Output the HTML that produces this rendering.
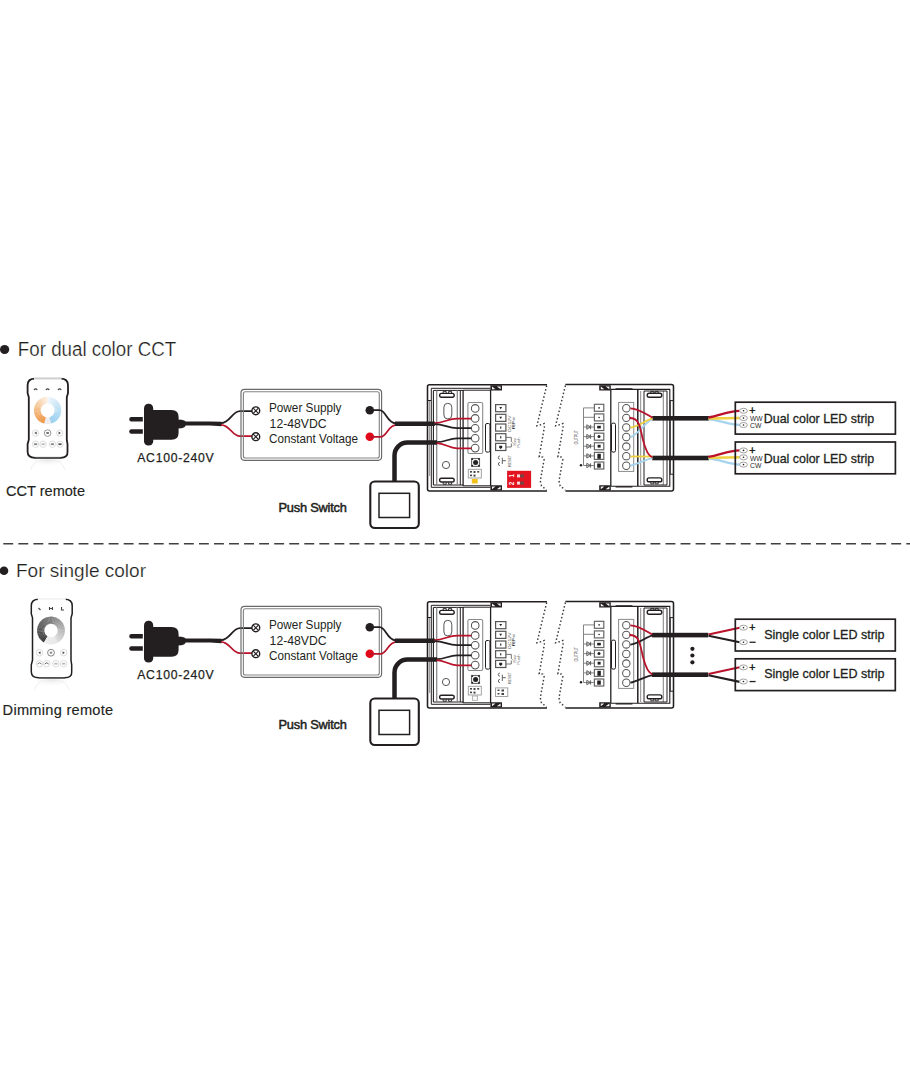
<!DOCTYPE html>
<html><head><meta charset="utf-8">
<style>
html,body{margin:0;padding:0;background:#fff;width:910px;height:1080px;overflow:hidden}
svg{display:block}
text{font-family:"Liberation Sans",sans-serif;fill:#231f20}
.th{stroke:#fff;stroke-width:0.22}
</style></head>
<body>
<svg width="910" height="1080" viewBox="0 0 910 1080">
<defs>
<radialGradient id="refl" cx="0.5" cy="0" r="0.8"><stop offset="0" stop-color="#e6e6e6"/><stop offset="1" stop-color="#fff" stop-opacity="0"/></radialGradient>
</defs>
<circle cx="4.6" cy="349.5" r="4.6" fill="#231f20"/>
<text class="th" x="17.8" y="355.8" font-size="19.6" textLength="158.4" lengthAdjust="spacingAndGlyphs">For dual color CCT</text>
<circle cx="4" cy="570.8" r="4.3" fill="#231f20"/>
<text class="th" x="16" y="576.5" font-size="19" textLength="130" lengthAdjust="spacingAndGlyphs">For single color</text>
<line x1="3.3" y1="543.7" x2="910" y2="543.7" stroke="#404040" stroke-width="1.6" stroke-dasharray="9.9 5.15"/>
<g><g fill="none" stroke="#231f20">
    <path d="M547 384.8 H429.5 Q427.5 384.8 427.5 386.8 V489 Q427.5 491 429.5 491 H547" stroke-width="1.55"/>
    <path d="M429.6 400.5 V476" stroke-width="0.9" stroke="#888"/>
    <path d="M427.5 400.5 H431" stroke-width="1"/>
    <path d="M490.5 388.3 H431.3 V487.3 H490.5" stroke-width="1"/>
    <path d="M433.4 390.4 V485" stroke-width="1.1"/>
    <path d="M433.4 390.4 H463 M433.4 485 H463" stroke-width="1"/>
    <path d="M436.7 390.4 V485 M457.3 390.4 V485" stroke-width="1.3" stroke="#8a8a8a"/>
    <path d="M460.3 390.4 V485" stroke-width="1"/>
    <path d="M463.1 390 V486" stroke-width="1.3"/>
    <path d="M490.6 390 V486" stroke-width="1.3"/>
    <path d="M463.1 390.2 H491 M463.1 485.8 H491" stroke-width="1"/>
    <rect x="439.6" y="393.4" width="14.6" height="3.8" rx="1.9" stroke-width="1.4"/>
    <rect x="439.6" y="478.2" width="14.6" height="3.8" rx="1.9" stroke-width="1.4"/>
    <path d="M443.2 393.2 V391.4 H446.2 V393.2 M448.6 393.2 V391.4 H451.6 V393.2 M443.2 482.4 V484.2 H446.2 V482.4 M448.6 482.4 V484.2 H451.6 V482.4" stroke-width="0.9"/>
    <rect x="443.9" y="403.3" width="7.9" height="15.6" rx="3.9" stroke-width="1" stroke="#555"/>
    <circle cx="446" cy="465" r="3.6" stroke-width="1" stroke="#555"/>
    <rect x="467.9" y="402.5" width="14.8" height="51" rx="1.5" stroke-width="1.1" stroke="#8a8a8a"/>
    <g stroke="#555" stroke-width="1.05">
      <circle cx="475.2" cy="408.4" r="3.8"/>
      <circle cx="475.2" cy="418.4" r="3.8"/>
      <circle cx="475.2" cy="428.3" r="3.8"/>
      <circle cx="475.2" cy="438.2" r="3.8"/>
      <circle cx="475.2" cy="448.1" r="3.8"/>
    </g>
    <rect x="485.5" y="423.5" width="4.5" height="28.6" rx="1.5" stroke-width="1"/>
    <g stroke-width="1.2" stroke="#555">
      <rect x="495.6" y="404.6" width="10.3" height="7.1"/>
      <rect x="495.6" y="414.3" width="10.3" height="7.1"/>
      <rect x="495.6" y="424" width="10.3" height="7.1"/>
      <rect x="495.6" y="433.7" width="10.3" height="7.1"/>
      <rect x="495.6" y="443.4" width="10.3" height="7.1"/>
    </g>
    <path d="M505.9 437.4 H511.3 V441.5 L512.5 442.5 M505.9 447 H511.3 V443.5" stroke-width="0.9" stroke="#666"/>
    <path d="M499.9 456 A1.6 1.6 0 1 0 499.9 459.2 M499.9 462.4 A1.6 1.6 0 1 0 499.9 465.6 M502.3 457.6 V464 M502.3 460.7 H505.9" stroke-width="0.9" stroke="#555"/>
  </g>
<g fill="#231f20">


    <path d="M499.3 407 H502.1 L500.7 409.3 Z M499.3 416.7 H502.1 L500.7 419 Z"/>
    <rect x="500.2" y="426.5" width="1.1" height="2.2"/>
    <rect x="500.2" y="436.2" width="1.1" height="2.2"/>
    <path d="M499.2 445.8 H502.2 V447.8 L500.7 449 L499.2 447.8 Z"/>
  </g>
<text x="0" y="0" font-size="4.3" style="fill:#666" transform="translate(510.9 432) rotate(-90)" textLength="16.5" lengthAdjust="spacingAndGlyphs">DC12V</text>
<text x="0" y="0" font-size="4.3" font-weight="bold" style="fill:#333" transform="translate(515.4 429.5) rotate(-90)" textLength="12.5" lengthAdjust="spacingAndGlyphs">RF=</text>
<text x="0" y="0" font-size="3.8" style="fill:#777" transform="translate(516 446) rotate(-90)" textLength="8" lengthAdjust="spacingAndGlyphs">Sw</text>
<text x="0" y="0" font-size="3.8" style="fill:#777" transform="translate(519.7 448) rotate(-90)" textLength="10.7" lengthAdjust="spacingAndGlyphs">Push</text>
<text x="0" y="0" font-size="4" style="fill:#555" transform="translate(511.4 467) rotate(-90)" textLength="12" lengthAdjust="spacingAndGlyphs">RESET</text>
<rect x="471.6" y="458.4" width="8" height="8" fill="#f4f4f4" stroke="#555" stroke-width="0.9"/>
<circle cx="475.6" cy="462.4" r="2.5" fill="#222"/>
<g fill="#222"><circle cx="472.3" cy="459.1" r="0.9"/><circle cx="478.9" cy="459.1" r="0.9"/><circle cx="472.3" cy="465.7" r="0.9"/><circle cx="478.9" cy="465.7" r="0.9"/></g>
<path d="M490.4 385.2 H502 V390.4 H490.4 Z M490.4 485.2 H502 V490.4 H490.4 Z" fill="#231f20"/>
<path d="M492 386.4 L495.5 389.2 L492 389.2 Z M496.8 386.4 L500.6 386.4 L500.6 389.2 Z M492 489.2 L495.5 486.4 L492 486.4 Z M496.8 489.2 L500.6 489.2 L500.6 486.4 Z" fill="#f2f2f2"/>
<rect x="468.3" y="469.3" width="13" height="8.7" fill="#fff" stroke="#999" stroke-width="0.9"/>
<g fill="#444"><rect x="470" y="471" width="2" height="1.6"/><rect x="473.5" y="471" width="2" height="2"/><rect x="477.2" y="471" width="2" height="1.6"/><rect x="470" y="474.6" width="2" height="1.6"/><rect x="473.5" y="474.6" width="2" height="2"/></g>
<path d="M546.7 385.5 L536.9 425.8 L540.5 424.8 L544.1 423.5 L544.4 427.1 L539.2 456.8 L542.8 457.1 L544.1 459.4 L540.3 481.0 L541.5 486.0 L546.5 489.8" fill="none" stroke="#3a3a3a" stroke-width="1.45" stroke-dasharray="1.5 2.2"/></g>
<g transform="translate(0,217)"><g fill="none" stroke="#231f20">
    <path d="M547 384.8 H429.5 Q427.5 384.8 427.5 386.8 V489 Q427.5 491 429.5 491 H547" stroke-width="1.55"/>
    <path d="M429.6 400.5 V476" stroke-width="0.9" stroke="#888"/>
    <path d="M427.5 400.5 H431" stroke-width="1"/>
    <path d="M490.5 388.3 H431.3 V487.3 H490.5" stroke-width="1"/>
    <path d="M433.4 390.4 V485" stroke-width="1.1"/>
    <path d="M433.4 390.4 H463 M433.4 485 H463" stroke-width="1"/>
    <path d="M436.7 390.4 V485 M457.3 390.4 V485" stroke-width="1.3" stroke="#8a8a8a"/>
    <path d="M460.3 390.4 V485" stroke-width="1"/>
    <path d="M463.1 390 V486" stroke-width="1.3"/>
    <path d="M490.6 390 V486" stroke-width="1.3"/>
    <path d="M463.1 390.2 H491 M463.1 485.8 H491" stroke-width="1"/>
    <rect x="439.6" y="393.4" width="14.6" height="3.8" rx="1.9" stroke-width="1.4"/>
    <rect x="439.6" y="478.2" width="14.6" height="3.8" rx="1.9" stroke-width="1.4"/>
    <path d="M443.2 393.2 V391.4 H446.2 V393.2 M448.6 393.2 V391.4 H451.6 V393.2 M443.2 482.4 V484.2 H446.2 V482.4 M448.6 482.4 V484.2 H451.6 V482.4" stroke-width="0.9"/>
    <rect x="443.9" y="403.3" width="7.9" height="15.6" rx="3.9" stroke-width="1" stroke="#555"/>
    <circle cx="446" cy="465" r="3.6" stroke-width="1" stroke="#555"/>
    <rect x="467.9" y="402.5" width="14.8" height="51" rx="1.5" stroke-width="1.1" stroke="#8a8a8a"/>
    <g stroke="#555" stroke-width="1.05">
      <circle cx="475.2" cy="408.4" r="3.8"/>
      <circle cx="475.2" cy="418.4" r="3.8"/>
      <circle cx="475.2" cy="428.3" r="3.8"/>
      <circle cx="475.2" cy="438.2" r="3.8"/>
      <circle cx="475.2" cy="448.1" r="3.8"/>
    </g>
    <rect x="485.5" y="423.5" width="4.5" height="28.6" rx="1.5" stroke-width="1"/>
    <g stroke-width="1.2" stroke="#555">
      <rect x="495.6" y="404.6" width="10.3" height="7.1"/>
      <rect x="495.6" y="414.3" width="10.3" height="7.1"/>
      <rect x="495.6" y="424" width="10.3" height="7.1"/>
      <rect x="495.6" y="433.7" width="10.3" height="7.1"/>
      <rect x="495.6" y="443.4" width="10.3" height="7.1"/>
    </g>
    <path d="M505.9 437.4 H511.3 V441.5 L512.5 442.5 M505.9 447 H511.3 V443.5" stroke-width="0.9" stroke="#666"/>
    <path d="M499.9 456 A1.6 1.6 0 1 0 499.9 459.2 M499.9 462.4 A1.6 1.6 0 1 0 499.9 465.6 M502.3 457.6 V464 M502.3 460.7 H505.9" stroke-width="0.9" stroke="#555"/>
  </g>
<g fill="#231f20">


    <path d="M499.3 407 H502.1 L500.7 409.3 Z M499.3 416.7 H502.1 L500.7 419 Z"/>
    <rect x="500.2" y="426.5" width="1.1" height="2.2"/>
    <rect x="500.2" y="436.2" width="1.1" height="2.2"/>
    <path d="M499.2 445.8 H502.2 V447.8 L500.7 449 L499.2 447.8 Z"/>
  </g>
<text x="0" y="0" font-size="4.3" style="fill:#666" transform="translate(510.9 432) rotate(-90)" textLength="16.5" lengthAdjust="spacingAndGlyphs">DC12V</text>
<text x="0" y="0" font-size="4.3" font-weight="bold" style="fill:#333" transform="translate(515.4 429.5) rotate(-90)" textLength="12.5" lengthAdjust="spacingAndGlyphs">RF=</text>
<text x="0" y="0" font-size="3.8" style="fill:#777" transform="translate(516 446) rotate(-90)" textLength="8" lengthAdjust="spacingAndGlyphs">Sw</text>
<text x="0" y="0" font-size="3.8" style="fill:#777" transform="translate(519.7 448) rotate(-90)" textLength="10.7" lengthAdjust="spacingAndGlyphs">Push</text>
<text x="0" y="0" font-size="4" style="fill:#555" transform="translate(511.4 467) rotate(-90)" textLength="12" lengthAdjust="spacingAndGlyphs">RESET</text>
<rect x="471.6" y="458.4" width="8" height="8" fill="#f4f4f4" stroke="#555" stroke-width="0.9"/>
<circle cx="475.6" cy="462.4" r="2.5" fill="#222"/>
<g fill="#222"><circle cx="472.3" cy="459.1" r="0.9"/><circle cx="478.9" cy="459.1" r="0.9"/><circle cx="472.3" cy="465.7" r="0.9"/><circle cx="478.9" cy="465.7" r="0.9"/></g>
<path d="M490.4 385.2 H502 V390.4 H490.4 Z M490.4 485.2 H502 V490.4 H490.4 Z" fill="#231f20"/>
<path d="M492 386.4 L495.5 389.2 L492 389.2 Z M496.8 386.4 L500.6 386.4 L500.6 389.2 Z M492 489.2 L495.5 486.4 L492 486.4 Z M496.8 489.2 L500.6 489.2 L500.6 486.4 Z" fill="#f2f2f2"/>
<rect x="468.3" y="469.3" width="13" height="8.7" fill="#fff" stroke="#999" stroke-width="0.9"/>
<g fill="#444"><rect x="470" y="471" width="2" height="1.6"/><rect x="473.5" y="471" width="2" height="2"/><rect x="477.2" y="471" width="2" height="1.6"/><rect x="470" y="474.6" width="2" height="1.6"/><rect x="473.5" y="474.6" width="2" height="2"/></g>
<path d="M546.7 385.5 L536.9 425.8 L540.5 424.8 L544.1 423.5 L544.4 427.1 L539.2 456.8 L542.8 457.1 L544.1 459.4 L540.3 481.0 L541.5 486.0 L546.5 489.8" fill="none" stroke="#3a3a3a" stroke-width="1.45" stroke-dasharray="1.5 2.2"/></g>
<g><path d="M565.4 385.5 L555.6 425.8 L559.2 424.8 L562.8 423.5 L563.1 427.1 L557.9 456.8 L561.5 457.1 L562.8 459.4 L559.0 481.0 L560.2 486.0 L565.2 489.8" fill="none" stroke="#3a3a3a" stroke-width="1.45" stroke-dasharray="1.5 2.2"/>
<g fill="none" stroke="#231f20">
    <path d="M565.4 384.4 H671.5 Q673.5 384.4 673.5 386.4 V489 Q673.5 491 671.5 491 H565.4" stroke-width="1.55"/>
    <path d="M610.7 389.4 H669.8 V486.2 H610.7" stroke-width="1.1"/>
    <path d="M610.8 390 V486" stroke-width="1.3"/>
    <rect x="611.5" y="423.1" width="4" height="29" rx="1.5" stroke-width="1"/>
    <rect x="618.6" y="402.4" width="15.1" height="69" stroke-width="1" stroke="#8a8a8a"/>
    <g stroke="#555" stroke-width="1.05">
<circle cx="626.3" cy="408.30" r="3.7"/>
<circle cx="626.3" cy="417.87" r="3.7"/>
<circle cx="626.3" cy="427.44" r="3.7"/>
<circle cx="626.3" cy="437.01" r="3.7"/>
<circle cx="626.3" cy="446.58" r="3.7"/>
<circle cx="626.3" cy="456.15" r="3.7"/>
<circle cx="626.3" cy="465.72" r="3.7"/>
</g>
    <path d="M637.8 390 V486" stroke-width="1.5"/>
    <path d="M640.7 391 V485" stroke-width="1" stroke="#8a8a8a"/>
    <path d="M644 391 V485" stroke-width="1"/>
    <path d="M663.3 391 V485" stroke-width="1.1" stroke="#8a8a8a"/>
    <path d="M644 391 H667 M644 485 H667" stroke-width="1"/>
    <path d="M667 391 V485" stroke-width="1"/>
    <rect x="647.2" y="393.3" width="14.6" height="3.9" rx="1.9" stroke-width="1.4"/>
    <rect x="647.2" y="477.9" width="14.6" height="3.9" rx="1.9" stroke-width="1.4"/>
    <path d="M650.8 393.1 V391.4 H653.8 V393.1 M655.2 393.1 V391.4 H658.2 V393.1 M650.8 482 V483.8 H653.8 V482 M655.2 482 V483.8 H658.2 V482" stroke-width="0.9"/>
    <rect x="670.2" y="400.6" width="3.3" height="73.6" stroke-width="1"/>
    <g stroke-width="1.2" stroke="#666">
<rect x="594.4" y="404.30" width="9.4" height="7"/>
<rect x="594.4" y="413.92" width="9.4" height="7"/>
<rect x="594.4" y="423.54" width="9.4" height="7"/>
<rect x="594.4" y="433.16" width="9.4" height="7"/>
<rect x="594.4" y="442.78" width="9.4" height="7"/>
<rect x="594.4" y="452.40" width="9.4" height="7"/>
<rect x="594.4" y="462.02" width="9.4" height="7"/>
</g>
<path d="M583.5 407.9 V465.4 M583.5 407.9 H594.4 M583.5 417.3 H594.4 M583.5 427.0 H594.4 M583.5 436.6 H594.4 M583.5 446.2 H594.4 M583.5 455.9 H594.4 M583.5 465.5 H594.4" stroke-width="0.9" stroke="#777"/>
<path d="M586.8 424.8 L590.6 427.0 L586.8 429.2 Z M590.6 424.8 V429.2" stroke-width="0.9" stroke="#555"/>
<path d="M586.8 434.4 L590.6 436.6 L586.8 438.8 Z M590.6 434.4 V438.8" stroke-width="0.9" stroke="#555"/>
<path d="M586.8 444.0 L590.6 446.2 L586.8 448.4 Z M590.6 444.0 V448.4" stroke-width="0.9" stroke="#555"/>
<path d="M586.8 453.7 L590.6 455.9 L586.8 458.1 Z M590.6 453.7 V458.1" stroke-width="0.9" stroke="#555"/>
<path d="M586.8 463.3 L590.6 465.5 L586.8 467.7 Z M590.6 463.3 V467.7" stroke-width="0.9" stroke="#555"/>
</g>
<g fill="#231f20">

    <circle cx="599.1" cy="407.9" r="0.8"/>
    <circle cx="599.1" cy="417.5" r="0.8"/>
    <rect x="597.2" y="425.8" width="3.6" height="2.6"/>
    <circle cx="599" cy="436.6" r="1.5"/>
    <rect x="597.6" y="444.8" width="3" height="2.8"/>
    <rect x="597.4" y="453.8" width="3.4" height="5"/>
    <rect x="597.2" y="463.5" width="3.6" height="4.2"/>
    <circle cx="581" cy="465.2" r="1.2"/>
  </g>
<path d="M599.2 385.2 H610.8 V390.4 H599.2 Z M599.2 485.2 H610.8 V490.4 H599.2 Z" fill="#231f20"/>
<path d="M600.8 386.4 L604.3 389.2 L600.8 389.2 Z M605.6 386.4 L609.4 386.4 L609.4 389.2 Z M600.8 489.2 L604.3 486.4 L600.8 486.4 Z M605.6 489.2 L609.4 489.2 L609.4 486.4 Z" fill="#f2f2f2"/>
<path d="M615.6 388.8 H632.4 M615.6 486.8 H632.4" stroke="#231f20" stroke-width="1.2"/>
<text x="0" y="0" font-size="5" style="fill:#555" transform="translate(578.3 444.5) rotate(-90)" textLength="14.5" lengthAdjust="spacingAndGlyphs">OUTPUT</text></g>
<g transform="translate(0,217)"><path d="M565.4 385.5 L555.6 425.8 L559.2 424.8 L562.8 423.5 L563.1 427.1 L557.9 456.8 L561.5 457.1 L562.8 459.4 L559.0 481.0 L560.2 486.0 L565.2 489.8" fill="none" stroke="#3a3a3a" stroke-width="1.45" stroke-dasharray="1.5 2.2"/>
<g fill="none" stroke="#231f20">
    <path d="M565.4 384.4 H671.5 Q673.5 384.4 673.5 386.4 V489 Q673.5 491 671.5 491 H565.4" stroke-width="1.55"/>
    <path d="M610.7 389.4 H669.8 V486.2 H610.7" stroke-width="1.1"/>
    <path d="M610.8 390 V486" stroke-width="1.3"/>
    <rect x="611.5" y="423.1" width="4" height="29" rx="1.5" stroke-width="1"/>
    <rect x="618.6" y="402.4" width="15.1" height="69" stroke-width="1" stroke="#8a8a8a"/>
    <g stroke="#555" stroke-width="1.05">
<circle cx="626.3" cy="408.30" r="3.7"/>
<circle cx="626.3" cy="417.87" r="3.7"/>
<circle cx="626.3" cy="427.44" r="3.7"/>
<circle cx="626.3" cy="437.01" r="3.7"/>
<circle cx="626.3" cy="446.58" r="3.7"/>
<circle cx="626.3" cy="456.15" r="3.7"/>
<circle cx="626.3" cy="465.72" r="3.7"/>
</g>
    <path d="M637.8 390 V486" stroke-width="1.5"/>
    <path d="M640.7 391 V485" stroke-width="1" stroke="#8a8a8a"/>
    <path d="M644 391 V485" stroke-width="1"/>
    <path d="M663.3 391 V485" stroke-width="1.1" stroke="#8a8a8a"/>
    <path d="M644 391 H667 M644 485 H667" stroke-width="1"/>
    <path d="M667 391 V485" stroke-width="1"/>
    <rect x="647.2" y="393.3" width="14.6" height="3.9" rx="1.9" stroke-width="1.4"/>
    <rect x="647.2" y="477.9" width="14.6" height="3.9" rx="1.9" stroke-width="1.4"/>
    <path d="M650.8 393.1 V391.4 H653.8 V393.1 M655.2 393.1 V391.4 H658.2 V393.1 M650.8 482 V483.8 H653.8 V482 M655.2 482 V483.8 H658.2 V482" stroke-width="0.9"/>
    <rect x="670.2" y="400.6" width="3.3" height="73.6" stroke-width="1"/>
    <g stroke-width="1.2" stroke="#666">
<rect x="594.4" y="404.30" width="9.4" height="7"/>
<rect x="594.4" y="413.92" width="9.4" height="7"/>
<rect x="594.4" y="423.54" width="9.4" height="7"/>
<rect x="594.4" y="433.16" width="9.4" height="7"/>
<rect x="594.4" y="442.78" width="9.4" height="7"/>
<rect x="594.4" y="452.40" width="9.4" height="7"/>
<rect x="594.4" y="462.02" width="9.4" height="7"/>
</g>
<path d="M583.5 407.9 V465.4 M583.5 407.9 H594.4 M583.5 417.3 H594.4 M583.5 427.0 H594.4 M583.5 436.6 H594.4 M583.5 446.2 H594.4 M583.5 455.9 H594.4 M583.5 465.5 H594.4" stroke-width="0.9" stroke="#777"/>
<path d="M586.8 424.8 L590.6 427.0 L586.8 429.2 Z M590.6 424.8 V429.2" stroke-width="0.9" stroke="#555"/>
<path d="M586.8 434.4 L590.6 436.6 L586.8 438.8 Z M590.6 434.4 V438.8" stroke-width="0.9" stroke="#555"/>
<path d="M586.8 444.0 L590.6 446.2 L586.8 448.4 Z M590.6 444.0 V448.4" stroke-width="0.9" stroke="#555"/>
<path d="M586.8 453.7 L590.6 455.9 L586.8 458.1 Z M590.6 453.7 V458.1" stroke-width="0.9" stroke="#555"/>
<path d="M586.8 463.3 L590.6 465.5 L586.8 467.7 Z M590.6 463.3 V467.7" stroke-width="0.9" stroke="#555"/>
</g>
<g fill="#231f20">

    <circle cx="599.1" cy="407.9" r="0.8"/>
    <circle cx="599.1" cy="417.5" r="0.8"/>
    <rect x="597.2" y="425.8" width="3.6" height="2.6"/>
    <circle cx="599" cy="436.6" r="1.5"/>
    <rect x="597.6" y="444.8" width="3" height="2.8"/>
    <rect x="597.4" y="453.8" width="3.4" height="5"/>
    <rect x="597.2" y="463.5" width="3.6" height="4.2"/>
    <circle cx="581" cy="465.2" r="1.2"/>
  </g>
<path d="M599.2 385.2 H610.8 V390.4 H599.2 Z M599.2 485.2 H610.8 V490.4 H599.2 Z" fill="#231f20"/>
<path d="M600.8 386.4 L604.3 389.2 L600.8 389.2 Z M605.6 386.4 L609.4 386.4 L609.4 389.2 Z M600.8 489.2 L604.3 486.4 L600.8 486.4 Z M605.6 489.2 L609.4 489.2 L609.4 486.4 Z" fill="#f2f2f2"/>
<path d="M615.6 388.8 H632.4 M615.6 486.8 H632.4" stroke="#231f20" stroke-width="1.2"/>
<text x="0" y="0" font-size="5" style="fill:#555" transform="translate(578.3 444.5) rotate(-90)" textLength="14.5" lengthAdjust="spacingAndGlyphs">OUTPUT</text></g>
<g><g fill="#231f20">
    <path d="M131.4 417 H142.8 V421.4 H131.4 A2.2 2.2 0 0 1 131.4 417 Z"/>
    <path d="M131.4 429.3 H142.8 V433.7 H131.4 A2.2 2.2 0 0 1 131.4 429.3 Z"/>
    <rect x="144" y="403.8" width="9.2" height="41.8" rx="4.4"/>
    <path d="M148 410 H171.5 Q178.6 410 178.6 417 V432.8 Q178.6 439.8 171.5 439.8 H148 Z"/>
    <path d="M177 419.4 L181.5 419.8 Q185 420.5 185.5 421.4 V425.6 Q185 427.8 181.5 428.3 L177 428.6 Z"/>
    <path d="M184 421.4 H210 L221.6 421.8 V426.3 L210 425.4 H184 Z"/>
  </g>
<path d="M221 423.2 C230 423.2 232 411.2 240 411.2 H253" fill="none" stroke="#231f20" stroke-width="1.8"/>
<path d="M221 424.8 C230 424.8 232 436.2 240 436.2 H253" fill="none" stroke="#b8132b" stroke-width="1.8"/>
<rect x="241" y="389.4" width="140.6" height="70.9" rx="3.5" fill="none" stroke="#6a6a6a" stroke-width="1.15"/>
<rect x="243.4" y="391.7" width="135.9" height="66.3" rx="2" fill="none" stroke="#858585" stroke-width="1.15"/>
<g fill="#fff" stroke="#231f20" stroke-width="1.4"><circle cx="255.8" cy="410.8" r="3.9"/><circle cx="255.8" cy="436.7" r="3.9"/></g>
<path d="M253.2 408.2 L258.4 413.4 M258.4 408.2 L253.2 413.4 M253.2 434.1 L258.4 439.3 M258.4 434.1 L253.2 439.3" stroke="#231f20" stroke-width="1.1"/>
<text x="269" y="412.2" font-size="12.2" textLength="72.5" lengthAdjust="spacingAndGlyphs">Power Supply</text>
<text x="269.6" y="427.7" font-size="12.2" textLength="57" lengthAdjust="spacingAndGlyphs">12-48VDC</text>
<text x="269" y="443.2" font-size="12.2" textLength="89" lengthAdjust="spacingAndGlyphs">Constant Voltage</text>
<circle cx="369.8" cy="410.2" r="4.3" fill="#231f20"/>
<circle cx="369.8" cy="436.8" r="4.3" fill="#e20a1a"/>
<path d="M369.8 410.2 H379.5 C386 410.2 387 423.3 395.5 423.3" fill="none" stroke="#231f20" stroke-width="1.8"/>
<path d="M369.8 436.8 H380.5 C387 436.8 388 424.8 396.5 424.8" fill="none" stroke="#b8132b" stroke-width="1.7"/>
<rect x="394.9" y="421.5" width="40" height="4.5" fill="#231f20"/>
<path d="M394.5 481.5 V455.6 A13 13 0 0 1 407.5 442.6 H437" fill="none" stroke="#231f20" stroke-width="4.5"/>
<rect x="370.3" y="481.5" width="48.5" height="46.5" rx="4.5" fill="#fff" stroke="#231f20" stroke-width="2.1"/>
<rect x="379" y="493.3" width="30.6" height="24.2" fill="none" stroke="#231f20" stroke-width="1.5"/>
<text x="278.5" y="512.1" font-size="12.8" textLength="68.3" lengthAdjust="spacing" style="fill:#231f20;stroke:#231f20;stroke-width:0.5">Push Switch</text>
<path d="M434.6 423.1 C444 423.1 448 418.6 457 418.6 H471.2" fill="none" stroke="#b8132b" stroke-width="1.7"/>
<path d="M434.6 424.1 C444 424.1 448 428.2 457 428.2 H471.2" fill="none" stroke="#231f20" stroke-width="1.7"/>
<path d="M436.6 442.2 C445 442.2 449 438.3 457 438.3 H471.2" fill="none" stroke="#231f20" stroke-width="1.7"/>
<path d="M436.6 443.2 C445 443.2 449 448.3 457 448.3 H471.2" fill="none" stroke="#b8132b" stroke-width="1.7"/></g>
<g transform="translate(0,217)"><g fill="#231f20">
    <path d="M131.4 417 H142.8 V421.4 H131.4 A2.2 2.2 0 0 1 131.4 417 Z"/>
    <path d="M131.4 429.3 H142.8 V433.7 H131.4 A2.2 2.2 0 0 1 131.4 429.3 Z"/>
    <rect x="144" y="403.8" width="9.2" height="41.8" rx="4.4"/>
    <path d="M148 410 H171.5 Q178.6 410 178.6 417 V432.8 Q178.6 439.8 171.5 439.8 H148 Z"/>
    <path d="M177 419.4 L181.5 419.8 Q185 420.5 185.5 421.4 V425.6 Q185 427.8 181.5 428.3 L177 428.6 Z"/>
    <path d="M184 421.4 H210 L221.6 421.8 V426.3 L210 425.4 H184 Z"/>
  </g>
<path d="M221 423.2 C230 423.2 232 411.2 240 411.2 H253" fill="none" stroke="#231f20" stroke-width="1.8"/>
<path d="M221 424.8 C230 424.8 232 436.2 240 436.2 H253" fill="none" stroke="#b8132b" stroke-width="1.8"/>
<rect x="241" y="389.4" width="140.6" height="70.9" rx="3.5" fill="none" stroke="#6a6a6a" stroke-width="1.15"/>
<rect x="243.4" y="391.7" width="135.9" height="66.3" rx="2" fill="none" stroke="#858585" stroke-width="1.15"/>
<g fill="#fff" stroke="#231f20" stroke-width="1.4"><circle cx="255.8" cy="410.8" r="3.9"/><circle cx="255.8" cy="436.7" r="3.9"/></g>
<path d="M253.2 408.2 L258.4 413.4 M258.4 408.2 L253.2 413.4 M253.2 434.1 L258.4 439.3 M258.4 434.1 L253.2 439.3" stroke="#231f20" stroke-width="1.1"/>
<text x="269" y="412.2" font-size="12.2" textLength="72.5" lengthAdjust="spacingAndGlyphs">Power Supply</text>
<text x="269.6" y="427.7" font-size="12.2" textLength="57" lengthAdjust="spacingAndGlyphs">12-48VDC</text>
<text x="269" y="443.2" font-size="12.2" textLength="89" lengthAdjust="spacingAndGlyphs">Constant Voltage</text>
<circle cx="369.8" cy="410.2" r="4.3" fill="#231f20"/>
<circle cx="369.8" cy="436.8" r="4.3" fill="#e20a1a"/>
<path d="M369.8 410.2 H379.5 C386 410.2 387 423.3 395.5 423.3" fill="none" stroke="#231f20" stroke-width="1.8"/>
<path d="M369.8 436.8 H380.5 C387 436.8 388 424.8 396.5 424.8" fill="none" stroke="#b8132b" stroke-width="1.7"/>
<rect x="394.9" y="421.5" width="40" height="4.5" fill="#231f20"/>
<path d="M394.5 481.5 V455.6 A13 13 0 0 1 407.5 442.6 H437" fill="none" stroke="#231f20" stroke-width="4.5"/>
<rect x="370.3" y="481.5" width="48.5" height="46.5" rx="4.5" fill="#fff" stroke="#231f20" stroke-width="2.1"/>
<rect x="379" y="493.3" width="30.6" height="24.2" fill="none" stroke="#231f20" stroke-width="1.5"/>
<text x="278.5" y="512.1" font-size="12.8" textLength="68.3" lengthAdjust="spacing" style="fill:#231f20;stroke:#231f20;stroke-width:0.5">Push Switch</text>
<path d="M434.6 423.1 C444 423.1 448 418.6 457 418.6 H471.2" fill="none" stroke="#b8132b" stroke-width="1.7"/>
<path d="M434.6 424.1 C444 424.1 448 428.2 457 428.2 H471.2" fill="none" stroke="#231f20" stroke-width="1.7"/>
<path d="M436.6 442.2 C445 442.2 449 438.3 457 438.3 H471.2" fill="none" stroke="#231f20" stroke-width="1.7"/>
<path d="M436.6 443.2 C445 443.2 449 448.3 457 448.3 H471.2" fill="none" stroke="#b8132b" stroke-width="1.7"/></g>
<text x="137.2" y="461.7" font-size="12.2" textLength="76.5" lengthAdjust="spacing" style="stroke:#231f20;stroke-width:0.25">AC100-240V</text>
<text x="137.2" y="678.7" font-size="12.2" textLength="76.5" lengthAdjust="spacing" style="stroke:#231f20;stroke-width:0.25">AC100-240V</text>
<text x="6" y="496.4" font-size="14.6" textLength="79" lengthAdjust="spacingAndGlyphs" style="stroke:#231f20;stroke-width:0.15">CCT remote</text>
<text x="2.6" y="714.9" font-size="14.6" textLength="110.6" lengthAdjust="spacing" style="stroke:#231f20;stroke-width:0.15">Dimming remote</text>
<rect x="471.8" y="478.9" width="5.9" height="4.6" fill="#f2c21a"/>
<rect x="507.1" y="470.8" width="24" height="17.1" fill="#e3141f"/>
<text x="0" y="0" font-size="6.4" font-weight="bold" style="fill:#fff" transform="translate(513.8 477.6) rotate(-90)">1</text>
<text x="0" y="0" font-size="6.4" font-weight="bold" style="fill:#fff" transform="translate(513.8 485.3) rotate(-90)">2</text>
<g><rect x="517" y="474.4" width="3" height="3" fill="#f6d6d6"/><rect x="520.3" y="474.4" width="3.6" height="3" fill="#6a4a48"/><rect x="517" y="481.6" width="3" height="3" fill="#f6d6d6"/><rect x="520.3" y="481.6" width="3.6" height="3" fill="#6a4a48"/></g>
<rect x="652.2" y="416" width="56.8" height="4.6" fill="#231f20"/>
<rect x="652.2" y="455.7" width="56.8" height="4.6" fill="#231f20"/>
<g fill="none" stroke-width="1.8">
  <path d="M630.4 437.2 C638 435 646 421 652.5 419.2" stroke="#a6d3ee"/>
  <path d="M630.4 427.6 C638 427 646 420 652.5 418.4" stroke="#f0d040"/>
  <path d="M630.4 465.7 C638 464 646 459 652.5 458.4" stroke="#a6d3ee"/>
  <path d="M630.4 456.5 H652.5" stroke="#f0d040"/>
  <path d="M630.4 408.3 C638 408.3 646 414 652.5 417.6" stroke="#b8132b"/>
  <path d="M629.5 418 C640 418 640 428 643 440 C645 448 648 456 652.5 457.4" stroke="#b8132b"/>
</g>
<g fill="none" stroke-width="2.3">
  <path d="M708.5 419.3 C720 420 728 424.5 739.6 425" stroke="#a6d3ee"/>
  <path d="M708.5 418.4 C720 418.4 728 418 739.6 418" stroke="#f0d040" stroke-width="2.6"/>
  <path d="M708.5 417.5 C720 415.5 728 411 739.6 410.8" stroke="#b8132b"/>
  <path d="M708.5 458.7 C720 459.4 728 464 739.6 464.6" stroke="#a6d3ee"/>
  <path d="M708.5 457.8 C720 457.8 728 457.3 739.6 457.3" stroke="#f0d040" stroke-width="2.6"/>
  <path d="M708.5 456.9 C720 455 728 450.6 739.6 450.4" stroke="#b8132b"/>
</g>
<rect x="735.3" y="402.2" width="160.1" height="31.9" fill="none" stroke="#231f20" stroke-width="1.7"/>
<rect x="735.3" y="442" width="160.1" height="31.8" fill="none" stroke="#231f20" stroke-width="1.7"/>
<ellipse cx="743.5" cy="410.8" rx="3.9" ry="2.5" fill="#fff" stroke="#999" stroke-width="0.9"/><circle cx="743.5" cy="410.8" r="0.8" fill="#231f20"/>
<ellipse cx="743.5" cy="418.1" rx="3.9" ry="2.5" fill="#fff" stroke="#999" stroke-width="0.9"/><circle cx="743.5" cy="418.1" r="0.8" fill="#231f20"/>
<ellipse cx="743.5" cy="425" rx="3.9" ry="2.5" fill="#fff" stroke="#999" stroke-width="0.9"/><circle cx="743.5" cy="425" r="0.8" fill="#231f20"/>
<ellipse cx="743.5" cy="450.4" rx="3.9" ry="2.5" fill="#fff" stroke="#999" stroke-width="0.9"/><circle cx="743.5" cy="450.4" r="0.8" fill="#231f20"/>
<ellipse cx="743.5" cy="457.3" rx="3.9" ry="2.5" fill="#fff" stroke="#999" stroke-width="0.9"/><circle cx="743.5" cy="457.3" r="0.8" fill="#231f20"/>
<ellipse cx="743.5" cy="464.6" rx="3.9" ry="2.5" fill="#fff" stroke="#999" stroke-width="0.9"/><circle cx="743.5" cy="464.6" r="0.8" fill="#231f20"/>
<text x="749.3" y="414.0" font-size="10.5" style="stroke:#231f20;stroke-width:0.45">+</text>
<text x="749.9" y="421.3" font-size="6.3" textLength="12.6" lengthAdjust="spacingAndGlyphs" style="fill:#2a2a2a">WW</text>
<text x="750" y="428.4" font-size="6.3" textLength="11.3" lengthAdjust="spacingAndGlyphs" style="fill:#2a2a2a">CW</text>
<text x="763.8" y="422.8" font-size="12.8" textLength="110.4" lengthAdjust="spacingAndGlyphs" style="stroke:#231f20;stroke-width:0.3">Dual color LED strip</text>
<text x="749.3" y="453.8" font-size="10.5" style="stroke:#231f20;stroke-width:0.45">+</text>
<text x="749.9" y="461.1" font-size="6.3" textLength="12.6" lengthAdjust="spacingAndGlyphs" style="fill:#2a2a2a">WW</text>
<text x="750" y="468.2" font-size="6.3" textLength="11.3" lengthAdjust="spacingAndGlyphs" style="fill:#2a2a2a">CW</text>
<text x="763.8" y="462.6" font-size="12.8" textLength="110.4" lengthAdjust="spacingAndGlyphs" style="stroke:#231f20;stroke-width:0.3">Dual color LED strip</text>
<rect x="472.4" y="696" width="5" height="4.3" fill="none" stroke="#aaa" stroke-width="0.9"/>
<rect x="495.5" y="687.9" width="12.3" height="8.6" fill="#fff" stroke="#999" stroke-width="0.9"/>
<g fill="#444"><rect x="497.5" y="689.5" width="2" height="1.5"/><rect x="501.5" y="689.5" width="2.5" height="2"/><rect x="497.5" y="693" width="2" height="1.5"/><rect x="501.5" y="693" width="2.5" height="2"/></g>
<rect x="652" y="632.8" width="56.2" height="4.6" fill="#231f20"/>
<rect x="652" y="672.4" width="56.2" height="4.6" fill="#231f20"/>
<g fill="none" stroke-width="1.8">
  <path d="M630.4 625.3 C638 625.3 646 631 652.5 634.6" stroke="#b8132b"/>
  <path d="M630.4 644.6 C638 644 646 637 652.5 635.4" stroke="#231f20"/>
  <path d="M629.5 635 C640 635 640 645 643 657 C645 665 648 673 652.5 674.4" stroke="#b8132b"/>
  <path d="M630.4 682.7 C638 681 646 676 652.5 675.4" stroke="#231f20"/>
</g>
<g fill="none" stroke-width="2.1">
  <path d="M708.5 634.5 L739.6 627.7" stroke="#b8132b"/>
  <path d="M708.5 635.8 L739.6 642.3" stroke="#231f20"/>
  <path d="M708.5 674 L739.6 667.3" stroke="#b8132b"/>
  <path d="M708.5 675.3 L739.6 681.9" stroke="#231f20"/>
</g>
<g fill="#231f20"><circle cx="692.4" cy="648.8" r="2.1"/><circle cx="692.4" cy="655.5" r="2.1"/><circle cx="692.4" cy="662.3" r="2.1"/></g>
<rect x="735.3" y="619.2" width="160" height="31.8" fill="none" stroke="#231f20" stroke-width="1.7"/>
<rect x="735.3" y="658.8" width="160" height="31.8" fill="none" stroke="#231f20" stroke-width="1.7"/>
<ellipse cx="743.5" cy="627.7" rx="3.9" ry="2.5" fill="#fff" stroke="#999" stroke-width="0.9"/><circle cx="743.5" cy="627.7" r="0.8" fill="#231f20"/>
<ellipse cx="743.5" cy="642.2" rx="3.9" ry="2.5" fill="#fff" stroke="#999" stroke-width="0.9"/><circle cx="743.5" cy="642.2" r="0.8" fill="#231f20"/>
<ellipse cx="743.5" cy="667.4" rx="3.9" ry="2.5" fill="#fff" stroke="#999" stroke-width="0.9"/><circle cx="743.5" cy="667.4" r="0.8" fill="#231f20"/>
<ellipse cx="743.5" cy="681.5" rx="3.9" ry="2.5" fill="#fff" stroke="#999" stroke-width="0.9"/><circle cx="743.5" cy="681.5" r="0.8" fill="#231f20"/>
<g fill="#231f20"><rect x="749.6" y="641.6" width="6" height="1.3"/><rect x="749.6" y="680.9" width="6" height="1.3"/></g>
<text x="749.3" y="631.4" font-size="10.5" style="stroke:#231f20;stroke-width:0.45">+</text>
<text x="749.3" y="671.1" font-size="10.5" style="stroke:#231f20;stroke-width:0.45">+</text>
<text x="764.2" y="639.3" font-size="12.8" textLength="120.4" lengthAdjust="spacingAndGlyphs" style="stroke:#231f20;stroke-width:0.3">Single color LED strip</text>
<text x="764.2" y="678.4" font-size="12.8" textLength="120.4" lengthAdjust="spacingAndGlyphs" style="stroke:#231f20;stroke-width:0.3">Single color LED strip</text>
<path d="M30.6 469.79999999999995 Q33.6 459.29999999999995 47.8 459.29999999999995 Q62.0 459.29999999999995 65.0 469.79999999999995" fill="none" stroke="#efefef" stroke-width="1"/>
<rect x="32.6" y="459.79999999999995" width="30.4" height="9" fill="url(#refl)"/>
<path d="M35.1 378.7 H60.5 Q68.0 378.7 68.0 385.2 V393.2 L66.8 397.2 V439.7 L67.5 444.2 V451.79999999999995 Q68.0 457.79999999999995 60.5 457.79999999999995 H35.1 Q27.6 457.79999999999995 27.6 451.79999999999995 V444.2 L28.8 439.7 V397.2 L27.6 393.2 V385.2 Q27.6 378.7 35.1 378.7 Z" fill="#fff" stroke="#231f20" stroke-width="1.8"/>
<path d="M34.1 378.7 H61.5" stroke="#fff" stroke-width="2.4"/>
<path d="M34.6 378.7 H61.0" stroke="#c8c8c8" stroke-width="1.1"/>
<path d="M35.1 457.79999999999995 H60.5" stroke="#555" stroke-width="1.8"/>
<g fill="none" stroke-width="6.6">
<path d="M47.60 400.10 A10.3 10.3 0 0 1 49.05 400.20" stroke="#f0f7fb"/>
<path d="M48.83 400.17 A10.3 10.3 0 0 1 50.26 400.45" stroke="#eaf4fa"/>
<path d="M50.05 400.40 A10.3 10.3 0 0 1 51.43 400.84" stroke="#e5f2fa"/>
<path d="M51.23 400.76 A10.3 10.3 0 0 1 52.55 401.37" stroke="#e0f0f9"/>
<path d="M52.36 401.26 A10.3 10.3 0 0 1 53.59 402.02" stroke="#dbeef8"/>
<path d="M53.42 401.90 A10.3 10.3 0 0 1 54.55 402.80" stroke="#d7ecf8"/>
<path d="M54.39 402.66 A10.3 10.3 0 0 1 55.41 403.69" stroke="#d3eaf7"/>
<path d="M55.27 403.52 A10.3 10.3 0 0 1 56.16 404.67" stroke="#cfe8f6"/>
<path d="M56.04 404.49 A10.3 10.3 0 0 1 56.78 405.74" stroke="#cbe6f6"/>
<path d="M56.68 405.54 A10.3 10.3 0 0 1 57.28 406.87" stroke="#c7e5f5"/>
<path d="M57.20 406.67 A10.3 10.3 0 0 1 57.63 408.05" stroke="#c3e3f5"/>
<path d="M57.58 407.84 A10.3 10.3 0 0 1 57.84 409.27" stroke="#c0e1f4"/>
<path d="M57.81 409.06 A10.3 10.3 0 0 1 57.90 410.50" stroke="#bcdff4"/>
<path d="M57.90 410.29 A10.3 10.3 0 0 1 57.81 411.74" stroke="#b9def3"/>
<path d="M57.84 411.52 A10.3 10.3 0 0 1 57.58 412.95" stroke="#b5dcf3"/>
<path d="M57.63 412.74 A10.3 10.3 0 0 1 57.20 414.12" stroke="#b2dbf2"/>
<path d="M57.28 413.92 A10.3 10.3 0 0 1 56.69 415.25" stroke="#aed9f2"/>
<path d="M56.79 415.06 A10.3 10.3 0 0 1 56.04 416.30" stroke="#abd8f1"/>
<path d="M56.16 416.12 A10.3 10.3 0 0 1 55.28 417.27" stroke="#a8d6f1"/>
<path d="M55.42 417.11 A10.3 10.3 0 0 1 54.40 418.14" stroke="#a4d5f0"/>
<path d="M54.56 417.99 A10.3 10.3 0 0 1 53.42 418.90" stroke="#a1d3f0"/>
<path d="M53.60 418.77 A10.3 10.3 0 0 1 52.36 419.53" stroke="#9ed2ef"/>
<path d="M52.55 419.43 A10.3 10.3 0 0 1 51.24 420.04" stroke="#9bd0ef"/>
<path d="M51.44 419.96 A10.3 10.3 0 0 1 50.06 420.40" stroke="#98cfee"/>
<path d="M50.27 420.35 A10.3 10.3 0 0 1 48.28 420.68" stroke="#ececee"/>
<path d="M48.50 420.66 A10.3 10.3 0 0 1 46.49 420.64" stroke="#ececee"/>
<path d="M46.70 420.66 A10.3 10.3 0 0 1 44.73 420.29" stroke="#ececee"/>
<path d="M44.93 420.35 A10.3 10.3 0 0 1 43.56 419.88" stroke="#ee9744"/>
<path d="M43.76 419.96 A10.3 10.3 0 0 1 42.46 419.32" stroke="#ef9948"/>
<path d="M42.65 419.43 A10.3 10.3 0 0 1 41.43 418.64" stroke="#ef9c4d"/>
<path d="M41.60 418.77 A10.3 10.3 0 0 1 40.48 417.85" stroke="#ef9f52"/>
<path d="M40.64 417.99 A10.3 10.3 0 0 1 39.64 416.94" stroke="#f0a258"/>
<path d="M39.78 417.11 A10.3 10.3 0 0 1 38.92 415.94" stroke="#f0a65e"/>
<path d="M39.04 416.12 A10.3 10.3 0 0 1 38.32 414.86" stroke="#f1a964"/>
<path d="M38.41 415.06 A10.3 10.3 0 0 1 37.85 413.72" stroke="#f1ad6b"/>
<path d="M37.92 413.92 A10.3 10.3 0 0 1 37.52 412.53" stroke="#f2b171"/>
<path d="M37.57 412.74 A10.3 10.3 0 0 1 37.34 411.31" stroke="#f3b578"/>
<path d="M37.36 411.52 A10.3 10.3 0 0 1 37.31 410.07" stroke="#f3b87f"/>
<path d="M37.30 410.29 A10.3 10.3 0 0 1 37.42 408.84" stroke="#f4bc86"/>
<path d="M37.39 409.06 A10.3 10.3 0 0 1 37.68 407.63" stroke="#f4c18d"/>
<path d="M37.62 407.84 A10.3 10.3 0 0 1 38.08 406.47" stroke="#f5c594"/>
<path d="M38.00 406.67 A10.3 10.3 0 0 1 38.62 405.36" stroke="#f6c99c"/>
<path d="M38.52 405.54 A10.3 10.3 0 0 1 39.29 404.32" stroke="#f6cda3"/>
<path d="M39.16 404.49 A10.3 10.3 0 0 1 40.08 403.37" stroke="#f7d1ab"/>
<path d="M39.93 403.52 A10.3 10.3 0 0 1 40.97 402.52" stroke="#f8d6b2"/>
<path d="M40.81 402.66 A10.3 10.3 0 0 1 41.96 401.78" stroke="#f8daba"/>
<path d="M41.78 401.90 A10.3 10.3 0 0 1 43.04 401.17" stroke="#f9dec2"/>
<path d="M42.84 401.26 A10.3 10.3 0 0 1 44.17 400.69" stroke="#fae3ca"/>
<path d="M43.97 400.76 A10.3 10.3 0 0 1 45.36 400.35" stroke="#fae7d2"/>
<path d="M45.15 400.40 A10.3 10.3 0 0 1 46.58 400.15" stroke="#fbecda"/>
<path d="M46.37 400.17 A10.3 10.3 0 0 1 47.82 400.10" stroke="#fcf1e2"/>
</g>
<g fill="#333"><path d="M34 390 Q35.6 387.6 37.2 390" fill="none" stroke="#444" stroke-width="1.3"/><path d="M46 390 Q47.6 387.6 49.2 390" fill="none" stroke="#444" stroke-width="1.3"/><path d="M58 390 Q59.6 387.6 61.2 390" fill="none" stroke="#444" stroke-width="1.3"/></g>
<g fill="#fff" stroke="#d4d4d4" stroke-width="0.8"><circle cx="35.6" cy="433.1" r="3.2"/><circle cx="59.6" cy="433.1" r="3.2"/><circle cx="35.6" cy="444.2" r="3.2"/><circle cx="43.1" cy="444.2" r="3.2"/><circle cx="52.4" cy="444.2" r="3.2"/><circle cx="60" cy="444.2" r="3.2"/></g>
<circle cx="47.6" cy="433.1" r="3.3" fill="#fff" stroke="#8a8a8a" stroke-width="0.9"/>
<g fill="#444"><path d="M36.6 431.6 L34.4 433.1 L36.6 434.6Z"/><path d="M58.6 431.6 L60.8 433.1 L58.6 434.6Z"/><rect x="46.3" y="432" width="2.6" height="2" fill="#777"/>
<rect x="34" y="443.3" width="3.2" height="1.8" fill="#888"/><rect x="41.5" y="443.3" width="3.2" height="1.8" fill="#bbb"/><rect x="50.8" y="443.3" width="3.2" height="1.8" fill="#888"/><rect x="58.4" y="443.3" width="3.2" height="1.8" fill="#555"/></g>
<path d="M34.3 689.8 Q37.3 679.3 51.75 679.3 Q66.2 679.3 69.2 689.8" fill="none" stroke="#efefef" stroke-width="1"/>
<rect x="36.3" y="679.8" width="30.9" height="9" fill="url(#refl)"/>
<path d="M38.8 599.3 H64.7 Q72.2 599.3 72.2 605.8 V613.8 L71.0 617.8 V660.3 L71.7 664.8 V671.8 Q72.2 677.8 64.7 677.8 H38.8 Q31.3 677.8 31.3 671.8 V664.8 L32.5 660.3 V617.8 L31.3 613.8 V605.8 Q31.3 599.3 38.8 599.3 Z" fill="#fff" stroke="#231f20" stroke-width="1.5"/>
<path d="M37.8 599.3 H65.7" stroke="#fff" stroke-width="2.4"/>
<path d="M38.3 599.3 H65.2" stroke="#f2f2f2" stroke-width="1.1"/>
<path d="M38.8 677.8 H64.7" stroke="#555" stroke-width="1.5"/>
<g fill="none" stroke-width="7.2">
<path d="M45.85 639.42 A10.3 10.3 0 0 1 44.56 638.54" stroke="#3c3c3c"/>
<path d="M44.73 638.67 A10.3 10.3 0 0 1 43.57 637.63" stroke="#3f3f3f"/>
<path d="M43.72 637.78 A10.3 10.3 0 0 1 42.70 636.60" stroke="#434343"/>
<path d="M42.83 636.77 A10.3 10.3 0 0 1 41.97 635.46" stroke="#464646"/>
<path d="M42.08 635.65 A10.3 10.3 0 0 1 41.40 634.24" stroke="#4a4a4a"/>
<path d="M41.48 634.44 A10.3 10.3 0 0 1 41.00 632.96" stroke="#4d4d4d"/>
<path d="M41.05 633.17 A10.3 10.3 0 0 1 40.76 631.63" stroke="#515151"/>
<path d="M40.79 631.84 A10.3 10.3 0 0 1 40.70 630.28" stroke="#545454"/>
<path d="M40.70 630.50 A10.3 10.3 0 0 1 40.82 628.94" stroke="#585858"/>
<path d="M40.79 629.16 A10.3 10.3 0 0 1 41.11 627.63" stroke="#5b5b5b"/>
<path d="M41.05 627.83 A10.3 10.3 0 0 1 41.57 626.36" stroke="#5f5f5f"/>
<path d="M41.48 626.56 A10.3 10.3 0 0 1 42.19 625.16" stroke="#626262"/>
<path d="M42.08 625.35 A10.3 10.3 0 0 1 42.96 624.06" stroke="#666666"/>
<path d="M42.83 624.23 A10.3 10.3 0 0 1 43.87 623.07" stroke="#696969"/>
<path d="M43.72 623.22 A10.3 10.3 0 0 1 44.90 622.20" stroke="#6d6d6d"/>
<path d="M44.73 622.33 A10.3 10.3 0 0 1 46.04 621.47" stroke="#707070"/>
<path d="M45.85 621.58 A10.3 10.3 0 0 1 47.26 620.90" stroke="#747474"/>
<path d="M47.06 620.98 A10.3 10.3 0 0 1 48.54 620.50" stroke="#777777"/>
<path d="M48.33 620.55 A10.3 10.3 0 0 1 49.87 620.26" stroke="#7b7b7b"/>
<path d="M49.66 620.29 A10.3 10.3 0 0 1 51.22 620.20" stroke="#7e7e7e"/>
<path d="M51.00 620.20 A10.3 10.3 0 0 1 52.56 620.32" stroke="#828282"/>
<path d="M52.34 620.29 A10.3 10.3 0 0 1 53.87 620.61" stroke="#878787"/>
<path d="M53.67 620.55 A10.3 10.3 0 0 1 55.14 621.07" stroke="#8c8c8c"/>
<path d="M54.94 620.98 A10.3 10.3 0 0 1 56.34 621.69" stroke="#909090"/>
<path d="M56.15 621.58 A10.3 10.3 0 0 1 57.44 622.46" stroke="#959595"/>
<path d="M57.27 622.33 A10.3 10.3 0 0 1 58.43 623.37" stroke="#9a9a9a"/>
<path d="M58.28 623.22 A10.3 10.3 0 0 1 59.30 624.40" stroke="#9f9f9f"/>
<path d="M59.17 624.23 A10.3 10.3 0 0 1 60.03 625.54" stroke="#a3a3a3"/>
<path d="M59.92 625.35 A10.3 10.3 0 0 1 60.60 626.76" stroke="#a8a8a8"/>
<path d="M60.52 626.56 A10.3 10.3 0 0 1 61.00 628.04" stroke="#adadad"/>
<path d="M60.95 627.83 A10.3 10.3 0 0 1 61.24 629.37" stroke="#b1b1b1"/>
<path d="M61.21 629.16 A10.3 10.3 0 0 1 61.30 630.72" stroke="#b6b6b6"/>
<path d="M61.30 630.50 A10.3 10.3 0 0 1 61.18 632.06" stroke="#bbbbbb"/>
<path d="M61.21 631.84 A10.3 10.3 0 0 1 60.89 633.37" stroke="#bfbfbf"/>
<path d="M60.95 633.17 A10.3 10.3 0 0 1 60.43 634.64" stroke="#c4c4c4"/>
<path d="M60.52 634.44 A10.3 10.3 0 0 1 59.81 635.84" stroke="#c9c9c9"/>
<path d="M59.92 635.65 A10.3 10.3 0 0 1 59.04 636.94" stroke="#cecece"/>
<path d="M59.17 636.77 A10.3 10.3 0 0 1 58.13 637.93" stroke="#d2d2d2"/>
<path d="M58.28 637.78 A10.3 10.3 0 0 1 57.10 638.80" stroke="#d7d7d7"/>
<path d="M57.27 638.67 A10.3 10.3 0 0 1 55.96 639.53" stroke="#dcdcdc"/>
<path d="M56.15 639.42 A10.3 10.3 0 0 1 54.32 640.25" stroke="#e8e8e8"/>
<path d="M54.52 640.18 A10.3 10.3 0 0 1 52.58 640.68" stroke="#eaeaea"/>
<path d="M52.79 640.64 A10.3 10.3 0 0 1 50.78 640.80" stroke="#eaeaea"/>
<path d="M51.00 640.80 A10.3 10.3 0 0 1 49.00 640.60" stroke="#ececec"/>
<path d="M49.21 640.64 A10.3 10.3 0 0 1 47.28 640.10" stroke="#ececec"/>
<path d="M47.48 640.18 A10.3 10.3 0 0 1 45.66 639.31" stroke="#eeeeee"/>
</g>
<g fill="none" stroke="#444" stroke-width="1.1"><path d="M38.5 608 L40.5 610"/><path d="M49.5 607 V610 M52.5 607 V610 M49.5 608.5 H52.5"/><path d="M61.5 607 V610 H64"/></g>
<g fill="#fff" stroke="#d4d4d4" stroke-width="0.8"><circle cx="39.5" cy="652.7" r="3.3"/><circle cx="63.6" cy="652.7" r="3.3"/><circle cx="39.5" cy="663.7" r="3.3"/><circle cx="46.7" cy="663.7" r="3.3"/><circle cx="55.9" cy="663.7" r="3.3"/><circle cx="63.6" cy="663.7" r="3.3"/></g>
<circle cx="51" cy="652.7" r="3.4" fill="#fff" stroke="#777" stroke-width="0.9"/>
<g fill="#444"><path d="M40.5 651.2 L38.3 652.7 L40.5 654.2Z"/><path d="M62.6 651.2 L64.8 652.7 L62.6 654.2Z"/><rect x="49.8" y="651.7" width="2.4" height="2" fill="#888"/>
<path d="M37.5 664 Q39.5 661.5 41.5 664" fill="none" stroke="#777" stroke-width="1"/><path d="M44.7 664 Q46.7 661.5 48.7 664" fill="none" stroke="#666" stroke-width="1"/><rect x="54.3" y="662.8" width="3.2" height="1.8" fill="#bbb"/><rect x="62" y="662.8" width="3.2" height="1.8" fill="#bbb"/></g>
</svg>
</body></html>
